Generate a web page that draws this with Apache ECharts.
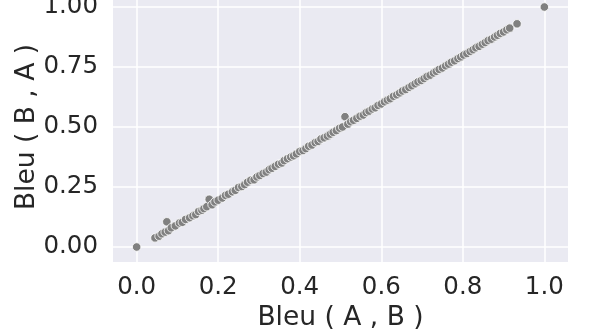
<!DOCTYPE html>
<html>
<head>
<meta charset="utf-8">
<script src="https://cdn.jsdelivr.net/npm/echarts@6/dist/echarts.min.js"></script>
<style>
  html, body { margin: 0; padding: 0; background: #fff; }
  #chart { width: 598px; height: 329px; }
</style>
</head>
<body>
<div id="chart"></div>
<script>
// Bleu(A,B) vs Bleu(B,A)
var bleuAB = [0, 0.045, 0.055, 0.062, 0.07, 0.074, 0.078, 0.085, 0.095, 0.105, 0.112, 0.12, 0.13, 0.138, 0.145, 0.152, 0.16, 0.165, 0.172, 0.178, 0.185, 0.192, 0.2, 0.21, 0.218, 0.225, 0.235, 0.242, 0.25, 0.258, 0.265, 0.272, 0.28, 0.288, 0.295, 0.302, 0.31, 0.318, 0.325, 0.332, 0.34, 0.348, 0.356, 0.362, 0.37, 0.378, 0.385, 0.392, 0.4, 0.408, 0.415, 0.422, 0.43, 0.438, 0.445, 0.452, 0.46, 0.468, 0.475, 0.482, 0.49, 0.498, 0.505, 0.511, 0.518, 0.525, 0.532, 0.54, 0.548, 0.556, 0.563, 0.57, 0.578, 0.585, 0.592, 0.6, 0.608, 0.615, 0.622, 0.63, 0.638, 0.645, 0.652, 0.66, 0.668, 0.675, 0.683, 0.69, 0.698, 0.705, 0.712, 0.72, 0.728, 0.735, 0.742, 0.75, 0.758, 0.765, 0.772, 0.78, 0.788, 0.795, 0.802, 0.81, 0.818, 0.825, 0.832, 0.84, 0.848, 0.855, 0.862, 0.87, 0.878, 0.885, 0.892, 0.9, 0.908, 0.915, 0.933, 1.0];
var bleuBA = [0, 0.038, 0.045, 0.055, 0.062, 0.105, 0.068, 0.08, 0.088, 0.1, 0.103, 0.115, 0.122, 0.13, 0.135, 0.148, 0.153, 0.16, 0.168, 0.199, 0.176, 0.188, 0.195, 0.204, 0.215, 0.22, 0.23, 0.236, 0.248, 0.252, 0.26, 0.27, 0.278, 0.28, 0.292, 0.298, 0.306, 0.312, 0.322, 0.328, 0.336, 0.345, 0.35, 0.36, 0.368, 0.375, 0.38, 0.388, 0.398, 0.402, 0.41, 0.42, 0.425, 0.435, 0.44, 0.45, 0.455, 0.462, 0.47, 0.478, 0.485, 0.495, 0.5, 0.543, 0.512, 0.522, 0.528, 0.536, 0.545, 0.55, 0.56, 0.566, 0.575, 0.58, 0.59, 0.596, 0.605, 0.612, 0.618, 0.628, 0.634, 0.642, 0.65, 0.656, 0.665, 0.672, 0.68, 0.688, 0.694, 0.702, 0.71, 0.716, 0.725, 0.732, 0.74, 0.746, 0.755, 0.762, 0.77, 0.776, 0.785, 0.792, 0.8, 0.806, 0.815, 0.822, 0.83, 0.836, 0.845, 0.852, 0.86, 0.866, 0.875, 0.882, 0.89, 0.896, 0.905, 0.912, 0.93, 1.0];
var xTicks = [0, 0.2, 0.4, 0.6, 0.8, 1.0];
var yTicks = [0, 0.25, 0.5, 0.75, 1.0];

var points = bleuAB.map(function (x, i) { return [x, bleuBA[i]]; });

var chart = echarts.init(document.getElementById('chart'));
var textColor = '#262626';
var font = 'DejaVu Sans';

chart.setOption({
  animation: false,
  backgroundColor: '#ffffff',
  grid: {
    left: 113, width: 455, top: -8, height: 270,
    outerBoundsMode: 'none', containLabel: false,
    show: true, backgroundColor: '#EAEAF2', borderWidth: 0
  },
  xAxis: {
    type: 'value', min: -0.058, max: 1.058,
    name: 'Bleu ( A , B )', nameLocation: 'middle', nameGap: 43, nameMoveOverlap: false,
    nameTextStyle: { color: textColor, fontSize: 26.5, fontFamily: font },
    axisLine: { show: false }, axisTick: { show: false, customValues: xTicks },
    axisLabel: {
      customValues: xTicks, color: textColor, fontSize: 24.5, fontFamily: font, margin: 13,
      formatter: function (v) { return v.toFixed(1); }
    },
    splitLine: { show: true, lineStyle: { color: '#ffffff', width: 1.5 } }
  },
  yAxis: {
    type: 'value', min: -0.0625, max: 1.0625,
    name: 'Bleu ( B , A )', nameLocation: 'middle', nameGap: 72, nameMoveOverlap: false,
    nameTextStyle: { color: textColor, fontSize: 26.5, fontFamily: font },
    axisLine: { show: false }, axisTick: { show: false, customValues: yTicks },
    axisLabel: {
      customValues: yTicks, color: textColor, fontSize: 24.5, fontFamily: font, margin: 15,
      formatter: function (v) { return v.toFixed(2); }
    },
    splitLine: { show: true, lineStyle: { color: '#ffffff', width: 1.5 } }
  },
  series: [{
    type: 'scatter',
    data: points,
    symbolSize: 8.5,
    itemStyle: { color: '#808080', borderColor: '#ffffff', borderWidth: 0.8, opacity: 1 }
  }]
});
</script>
</body>
</html>
